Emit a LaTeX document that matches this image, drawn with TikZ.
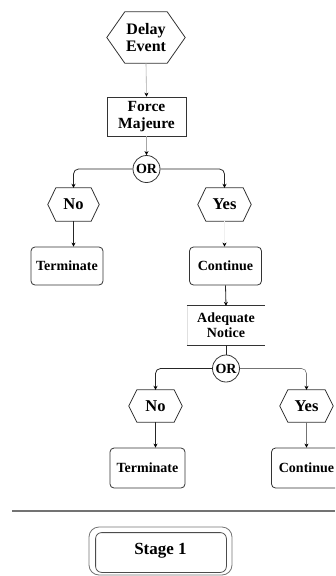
\documentclass[tikz,border=0pt]{standalone}
\usepackage{fontspec}
\setmainfont{Liberation Serif}
\usetikzlibrary{arrows.meta,calc}

% Hexagonal outline drawn around a (frameless) node; #2 = horizontal inset of the flat edges
\newcommand\hexframe[2]{%
  \draw[frame] (#1.west) -- ([xshift=#2]#1.north west) -- ([xshift=-#2]#1.north east)
    -- (#1.east) -- ([xshift=-#2]#1.south east) -- ([xshift=#2]#1.south west) -- cycle;}

\begin{document}
\begin{tikzpicture}[x=1pt,y=-1pt,
  lbl/.style={font=\bfseries\fontsize{#1}{17}\selectfont, align=center, inner sep=0pt},
  frame/.style={draw=black!80, line width=0.8pt},
  hexn/.style={lbl=#1},
  roundbox/.style={lbl=14, draw=black!80, line width=0.8pt, rounded corners=4pt,
                   minimum width=72, minimum height=38},
  orn/.style={lbl=14, circle, draw=black!80, line width=0.8pt, minimum size=27},
  arr/.style={draw=black!85, line width=0.8pt, -{Stealth[length=4pt,width=4pt,color=black]}},
  plain/.style={draw=black!85, line width=0.8pt},
  fade/.style={draw=black!35, line width=0.6pt},
  ]
\useasboundingbox (0,0) rectangle (335,576);
\clip (0,0) rectangle (335,576);

% ---- first decision ----
\node[hexn=16, minimum width=78, minimum height=51] (delay) at (146,37.5) {Delay\\Event};
\hexframe{delay}{18}
\node[lbl=15.5, draw=black!80, line width=0.8pt, minimum width=79, minimum height=39] (force) at (146.5,116.5) {Force\\Majeure};
\node[orn] (or1) at (146.5,169) {OR};

\node[hexn=16.5, minimum width=51, minimum height=33] (no1) at (73.5,204.5) {No};
\hexframe{no1}{8}
\node[hexn=16.5, minimum width=53, minimum height=33] (yes1) at (224.5,204.5) {Yes};
\hexframe{yes1}{8}

\node[roundbox] (term1) at (67,266) {Terminate};
\node[roundbox] (cont1) at (225.5,266) {Continue};

% ---- second decision ----
\node[lbl=14, minimum width=78, minimum height=39] (notice) at (226,325.5) {Adequate\\[-2pt]Notice};
\draw[frame] (notice.north west) -- (notice.north east);
\draw[frame] (notice.south west) -- (notice.south east);
\draw[draw=black!12, line width=0.6pt] (notice.north west) -- (notice.south west);

\node[orn] (or2) at (226,368.5) {OR};

\node[hexn=16.5, minimum width=53, minimum height=32] (no2) at (155.5,406) {No};
\hexframe{no2}{8}
\node[hexn=16.5, minimum width=53, minimum height=32] (yes2) at (306.5,406) {Yes};
\hexframe{yes2}{8}

\node[roundbox, minimum width=75, minimum height=40] (term2) at (147.5,468) {Terminate};
\node[roundbox, minimum width=70, minimum height=40] (cont2) at (306.5,468) {Continue};

% ---- connectors ----
\draw[fade, -{Stealth[length=4pt,width=4pt,color=black]}] (delay.south) -- (force.north);
\draw[fade, -{Stealth[length=4pt,width=4pt,color=black]}] (force.south) -- (or1.north);
\draw[arr, rounded corners=5pt] (or1.west) -| (no1.north);
\draw[arr, rounded corners=5pt] (or1.east) -| (yes1.north);
\draw[arr] (no1.south) -- (no1.south |- term1.north);
\draw[draw=black!6, line width=0.6pt, -{Stealth[length=4pt,width=4pt,color=black]}] (yes1.south) -- (yes1.south |- cont1.north);
\draw[arr] (cont1.south) -- (notice.north);
\draw[plain] (notice.south) -- (or2.north);
\draw[arr, rounded corners=5pt] (or2.west) -| (no2.north);
\draw[fade, draw=black!55, rounded corners=5pt, -{Stealth[length=4pt,width=4pt,color=black]}] (or2.east) -| (yes2.north);
\draw[arr] (no2.south) -- (no2.south |- term2.north);
\draw[fade, draw=black!55, -{Stealth[length=4pt,width=4pt,color=black]}] (yes2.south) -- (cont2.north);

% ---- separator ----
\coordinate (sepL) at (12,511);
\coordinate (sepR) at (335,511);
\draw[draw=black!55, line width=2pt] (sepL) -- (sepR);

% ---- stage label with double frame ----
\node[lbl=17, draw=black!55, line width=0.8pt, rounded corners=10pt,
      minimum width=143, minimum height=48] (stage) at (160.5,551) {Stage 1};
\draw[draw=black!70, line width=0.8pt, rounded corners=6pt]
  ([shift={(7,6)}]stage.north west) rectangle ([shift={(-6,-3)}]stage.south east);
\end{tikzpicture}
\end{document}
